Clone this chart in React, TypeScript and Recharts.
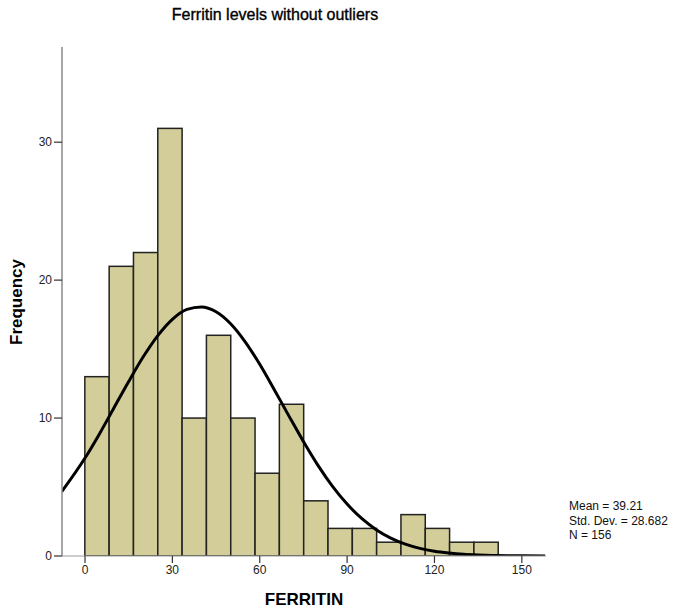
import React from "react";
import {
  ComposedChart,
  Bar,
  Line,
  XAxis,
  YAxis,
} from "recharts";

// histogram bins (left edge of each bin) and counts
const binStarts = [
  0, 8.35, 16.7, 25.05, 33.4, 41.75, 50.1, 58.45, 66.8, 75.15, 83.5, 91.85,
  100.2, 108.55, 116.9, 125.25, 133.6,
];
const binWidth = 8.35;
const counts = [13, 21, 22, 31, 10, 16, 10, 6, 11, 4, 2, 2, 1, 3, 2, 1, 1];

// fitted normal curve
const curveX = [
  -8, 0, 5, 10, 15, 20, 25, 30, 35, 40, 45, 50, 55, 60, 65, 70, 75, 80, 85, 90,
  95, 100, 105, 110, 115, 120, 125, 130, 135, 140, 145, 150, 158,
];
const curveY = [
  4.66, 7.1, 8.87, 10.76, 12.65, 14.44, 15.98, 17.16, 17.88, 18.06, 17.71,
  16.84, 15.53, 13.9, 12.06, 10.16, 8.3, 6.57, 5.05, 3.77, 2.72, 1.91, 1.3,
  0.86, 0.55, 0.34, 0.21, 0.12, 0.07, 0.04, 0.02, 0.01, 0.0,
];

const xTicks = [0, 30, 60, 90, 120, 150];
const yTicks = [0, 10, 20, 30];
const xDomain: [number, number] = [-7.9, 158.3];

const stats = ["Mean = 39.21", "Std. Dev. = 28.682", "N = 156"];

const barData = binStarts.map((s, i) => ({
  x: s + binWidth / 2,
  count: counts[i],
}));
const curveData = curveX.map((x, i) => ({ x, y: curveY[i] }));

const font = "'Liberation Sans', Arial, sans-serif";

const W = 674;
const H = 611;
const margin = { top: 47, right: 128, bottom: 0, left: 0 };
const yAxisWidth = 62;
const plotWidth = W - margin.left - margin.right - yAxisWidth;
const barPx = (plotWidth / (xDomain[1] - xDomain[0])) * binWidth;

// recharts squeezes bars on a numeric axis, so widen each one to its bin
function BinBar(props: any) {
  const { x, y, width, height } = props;
  if (!height) return null;
  const cx = x + width / 2;
  return (
    <rect
      x={cx - barPx / 2}
      y={y}
      width={barPx}
      height={height}
      fill="#D3CE99"
      stroke="#222"
      strokeWidth={1.5}
    />
  );
}

export default function App() {
  return (
    <div
      style={{
        position: "absolute",
        left: 0,
        top: 0,
        width: W,
        height: H,
        background: "#fff",
        fontFamily: font,
      }}
    >
      <div
        style={{
          position: "absolute",
          left: 0,
          width: 550,
          top: 6,
          textAlign: "center",
          fontSize: 16,
          color: "#000",
          WebkitTextStroke: "0.35px #000",
        }}
      >
        Ferritin levels without outliers
      </div>
      <ComposedChart
        width={W}
        height={H}
        data={barData}
        margin={margin}
        barGap={0}
      >
        <XAxis
          dataKey="x"
          type="number"
          domain={xDomain}
          allowDataOverflow
          ticks={xTicks}
          height={55}
          axisLine={{ stroke: "#9a9a9a", strokeWidth: 1 }}
          tickLine={{ stroke: "#333", strokeWidth: 1.2 }}
          tickSize={7}
          tick={{ fill: "#222", fontSize: 12, fontFamily: font }}
        />
        <YAxis
          type="number"
          domain={[0, 36.9]}
          allowDataOverflow
          ticks={yTicks}
          width={yAxisWidth}
          axisLine={{ stroke: "#8a8a8a", strokeWidth: 1.5 }}
          tickLine={{ stroke: "#333", strokeWidth: 1.2 }}
          tickSize={8}
          tick={{ fill: "#222", fontSize: 12, fontFamily: font }}
        />
        <Bar
          dataKey="count"
          shape={BinBar}
          isAnimationActive={false}
        />
        <Line
          data={curveData}
          dataKey="y"
          type="monotone"
          stroke="#000"
          strokeWidth={3}
          dot={false}
          activeDot={false}
          isAnimationActive={false}
        />
      </ComposedChart>
      <div
        style={{
          position: "absolute",
          left: 62,
          width: 484,
          top: 590,
          textAlign: "center",
          fontSize: 17,
          fontWeight: "bold",
          color: "#000",
        }}
      >
        FERRITIN
      </div>
      <div
        style={{
          position: "absolute",
          left: 17,
          top: 302,
          transform: "translate(-50%, -50%) rotate(-90deg)",
          fontSize: 17,
          fontWeight: "bold",
          color: "#000",
          whiteSpace: "nowrap",
        }}
      >
        Frequency
      </div>
      <div
        style={{
          position: "absolute",
          left: 569,
          top: 499,
          fontSize: 12,
          lineHeight: "14.5px",
          color: "#111",
        }}
      >
        {stats.map((s) => (
          <div key={s}>{s}</div>
        ))}
      </div>
    </div>
  );
}
